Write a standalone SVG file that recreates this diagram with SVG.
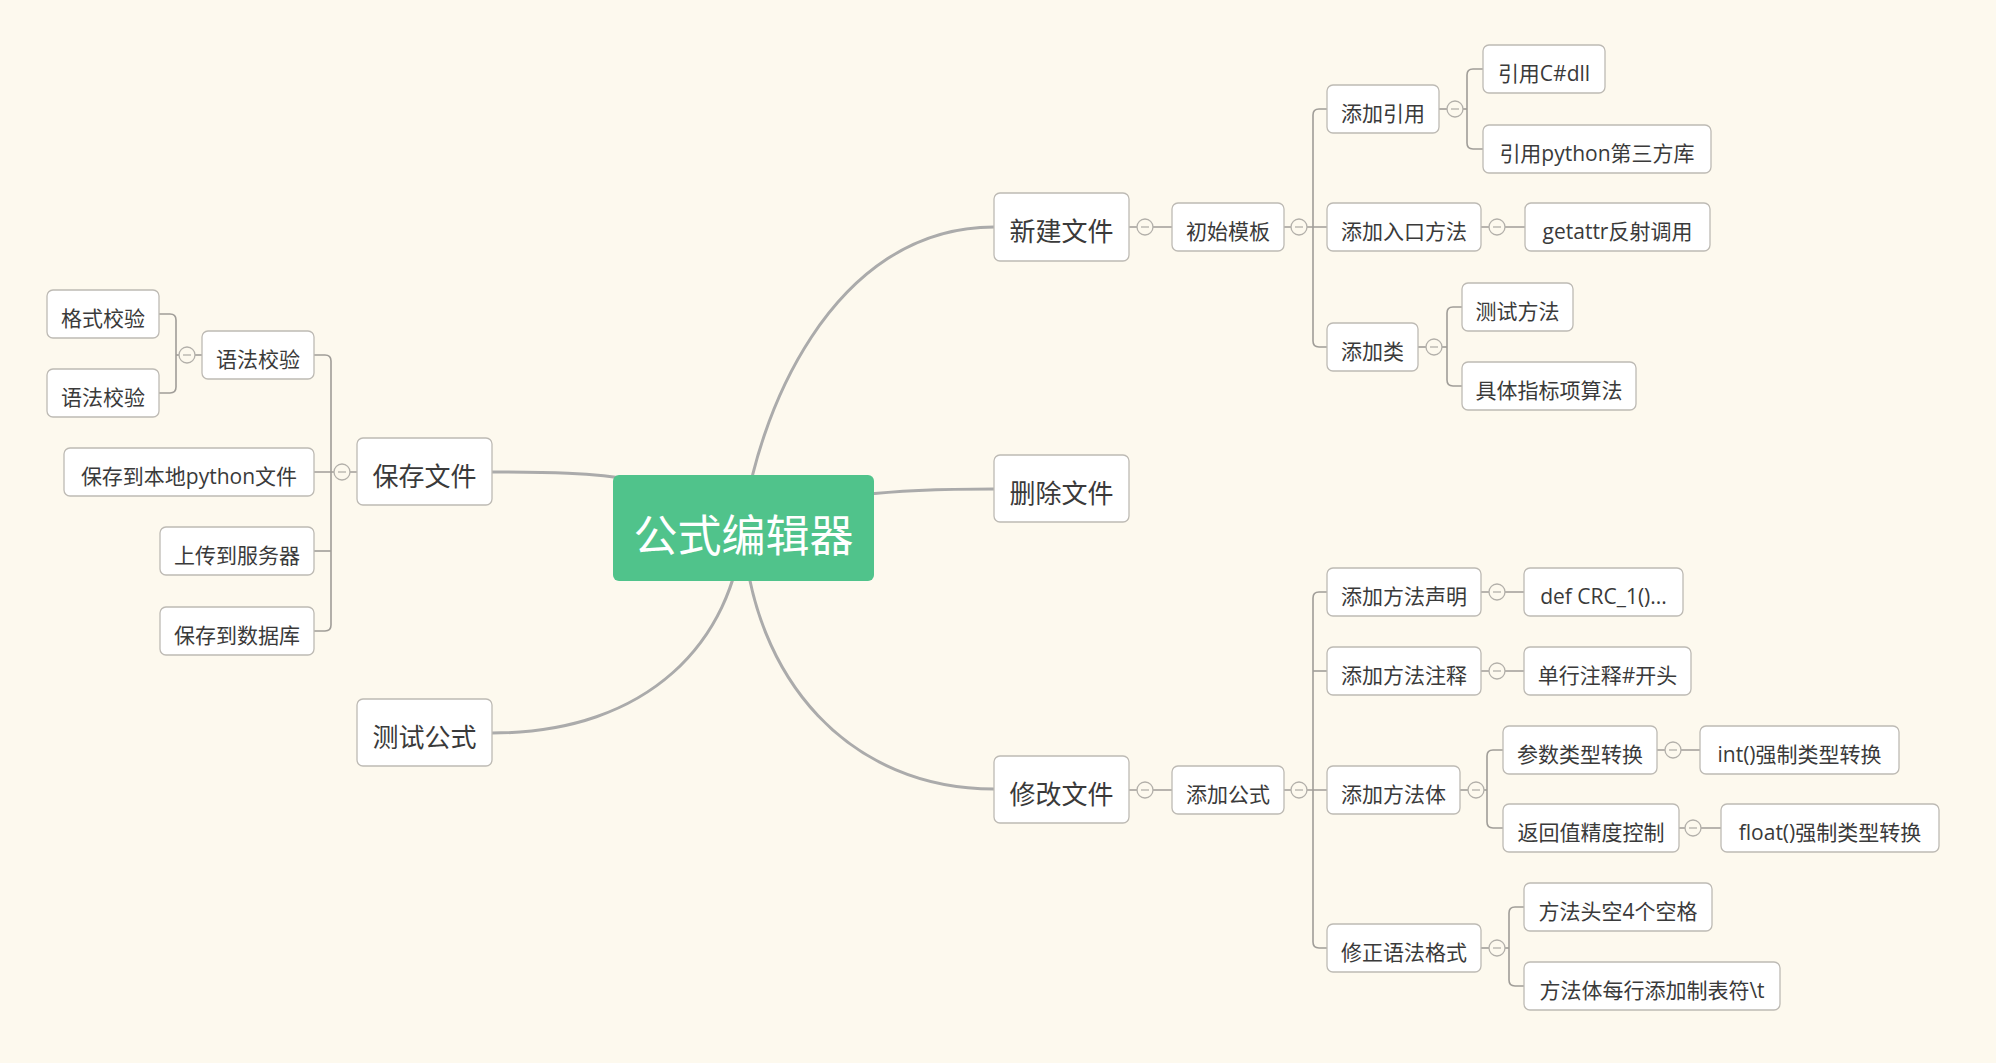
<svg xmlns="http://www.w3.org/2000/svg" width="1996" height="1063" viewBox="0 0 1996 1063">
<style>
.bg{fill:#fdf9ee}
.n rect{fill:#ffffff;stroke:#bdbab4;stroke-width:1.3}
.n text{font-family:"Open Sans","Noto Sans CJK SC",sans-serif;fill:#3a3a3a;text-anchor:middle}
.m text{font-size:26px}
.s text{font-size:21px}
.root rect{fill:#50c38b;stroke:none}
.root text{font-family:"Noto Sans CJK SC","Noto Sans",sans-serif;fill:#ffffff;font-size:44px;text-anchor:middle}
.main{fill:none;stroke:#ababab;stroke-width:3}
.sub{fill:none;stroke:#a09d98;stroke-width:1.6}
.tog circle{fill:#fdf9ee;stroke:#b3b0aa;stroke-width:1.3}
.tog line{stroke:#b3b0aa;stroke-width:1.3}
</style>
<rect class="bg" x="0" y="0" width="1996" height="1063"/>

<g id="connectors">
  <path class="main" d="M743,528 C755,420 830,227 994,227"/>
  <path class="main" d="M743,528 C820,492 900,489 994,489"/>
  <path class="main" d="M743,528 C752,680 850,789 994,789"/>
  <path class="main" d="M743,528 C680,475 600,472 492,472"/>
  <path class="main" d="M743,528 C733,640 650,733 492,733"/>

  <path class="sub" d="M1129,227 H1172"/>
  <path class="sub" d="M1284,227 H1327"/>
  <path class="sub" d="M1327,109 H1319 Q1313,109 1313,115 V341 Q1313,347 1319,347 H1327"/>
  <path class="sub" d="M1439,109 H1467"/>
  <path class="sub" d="M1483,69 H1473 Q1467,69 1467,75 V143 Q1467,149 1473,149 H1483"/>
  <path class="sub" d="M1481,227 H1525"/>
  <path class="sub" d="M1418,347 H1447"/>
  <path class="sub" d="M1462,307 H1453 Q1447,307 1447,313 V380 Q1447,386 1453,386 H1462"/>

  <path class="sub" d="M1129,790 H1172"/>
  <path class="sub" d="M1284,790 H1327"/>
  <path class="sub" d="M1327,592 H1319 Q1313,592 1313,598 V942 Q1313,948 1319,948 H1327"/>
  <path class="sub" d="M1313,671 H1327"/>
  <path class="sub" d="M1481,592 H1524"/>
  <path class="sub" d="M1481,671 H1524"/>
  <path class="sub" d="M1460,790 H1487"/>
  <path class="sub" d="M1503,750 H1493 Q1487,750 1487,756 V822 Q1487,828 1493,828 H1503"/>
  <path class="sub" d="M1657,750 H1700"/>
  <path class="sub" d="M1679,828 H1721"/>
  <path class="sub" d="M1481,948 H1509"/>
  <path class="sub" d="M1524,907 H1515 Q1509,907 1509,913 V980 Q1509,986 1515,986 H1524"/>

  <path class="sub" d="M357,472 H314"/>
  <path class="sub" d="M314,355 H325 Q331,355 331,361 V625 Q331,631 325,631 H314"/>
  <path class="sub" d="M331,551 H314"/>
  <path class="sub" d="M202,355 H176"/>
  <path class="sub" d="M159,314 H170 Q176,314 176,320 V387 Q176,393 170,393 H159"/>
</g>

<g id="toggles" class="tog">
  <g><circle cx="1145" cy="227" r="8"/><line x1="1141" y1="227" x2="1149" y2="227"/></g>
  <g><circle cx="1299" cy="227" r="8"/><line x1="1295" y1="227" x2="1303" y2="227"/></g>
  <g><circle cx="1455" cy="109" r="8"/><line x1="1451" y1="109" x2="1459" y2="109"/></g>
  <g><circle cx="1497" cy="227" r="8"/><line x1="1493" y1="227" x2="1501" y2="227"/></g>
  <g><circle cx="1434" cy="347" r="8"/><line x1="1430" y1="347" x2="1438" y2="347"/></g>
  <g><circle cx="1145" cy="790" r="8"/><line x1="1141" y1="790" x2="1149" y2="790"/></g>
  <g><circle cx="1299" cy="790" r="8"/><line x1="1295" y1="790" x2="1303" y2="790"/></g>
  <g><circle cx="1497" cy="592" r="8"/><line x1="1493" y1="592" x2="1501" y2="592"/></g>
  <g><circle cx="1497" cy="671" r="8"/><line x1="1493" y1="671" x2="1501" y2="671"/></g>
  <g><circle cx="1476" cy="790" r="8"/><line x1="1472" y1="790" x2="1480" y2="790"/></g>
  <g><circle cx="1673" cy="750" r="8"/><line x1="1669" y1="750" x2="1677" y2="750"/></g>
  <g><circle cx="1693" cy="828" r="8"/><line x1="1689" y1="828" x2="1697" y2="828"/></g>
  <g><circle cx="1497" cy="948" r="8"/><line x1="1493" y1="948" x2="1501" y2="948"/></g>
  <g><circle cx="342" cy="472" r="8"/><line x1="338" y1="472" x2="346" y2="472"/></g>
  <g><circle cx="187" cy="355" r="8"/><line x1="183" y1="355" x2="191" y2="355"/></g>
</g>

<g id="root" class="root"><rect x="613" y="475" width="261" height="106" rx="6"/><text x="743.5" y="552">公式编辑器</text></g>

<g id="n-new" class="n m"><rect x="994" y="193" width="135" height="68" rx="6"/><text x="1061.5" y="241">新建文件</text></g>
<g id="n-del" class="n m"><rect x="994" y="455" width="135" height="67" rx="6"/><text x="1061.5" y="503">删除文件</text></g>
<g id="n-mod" class="n m"><rect x="994" y="756" width="135" height="67" rx="6"/><text x="1061.5" y="804">修改文件</text></g>
<g id="n-save" class="n m"><rect x="357" y="438" width="135" height="67" rx="6"/><text x="424.5" y="486">保存文件</text></g>
<g id="n-test" class="n m"><rect x="357" y="699" width="135" height="67" rx="6"/><text x="424.5" y="747">测试公式</text></g>

<g id="n-tpl" class="n s"><rect x="1172" y="203" width="112" height="48" rx="6"/><text x="1228" y="239">初始模板</text></g>
<g id="n-ref" class="n s"><rect x="1327" y="85" width="112" height="48" rx="6"/><text x="1383" y="121">添加引用</text></g>
<g id="n-entry" class="n s"><rect x="1327" y="203" width="154" height="48" rx="6"/><text x="1404" y="239">添加入口方法</text></g>
<g id="n-cls" class="n s"><rect x="1327" y="323" width="91" height="48" rx="6"/><text x="1372.5" y="359">添加类</text></g>
<g id="n-dll" class="n s"><rect x="1483" y="45" width="122" height="48" rx="6"/><text x="1544" y="81">引用C#dll</text></g>
<g id="n-pylib" class="n s"><rect x="1483" y="125" width="228" height="48" rx="6"/><text x="1597" y="161">引用python第三方库</text></g>
<g id="n-getattr" class="n s"><rect x="1525" y="203" width="185" height="48" rx="6"/><text x="1617.5" y="239">getattr反射调用</text></g>
<g id="n-testm" class="n s"><rect x="1462" y="283" width="111" height="48" rx="6"/><text x="1517.5" y="319">测试方法</text></g>
<g id="n-algo" class="n s"><rect x="1462" y="362" width="174" height="48" rx="6"/><text x="1549" y="398">具体指标项算法</text></g>

<g id="n-formula" class="n s"><rect x="1172" y="766" width="112" height="48" rx="6"/><text x="1228" y="802">添加公式</text></g>
<g id="n-decl" class="n s"><rect x="1327" y="568" width="154" height="48" rx="6"/><text x="1404" y="604">添加方法声明</text></g>
<g id="n-cmt" class="n s"><rect x="1327" y="647" width="154" height="48" rx="6"/><text x="1404" y="683">添加方法注释</text></g>
<g id="n-body" class="n s"><rect x="1327" y="766" width="133" height="48" rx="6"/><text x="1393.5" y="802">添加方法体</text></g>
<g id="n-fix" class="n s"><rect x="1327" y="924" width="154" height="48" rx="6"/><text x="1404" y="960">修正语法格式</text></g>
<g id="n-crc" class="n s"><rect x="1524" y="568" width="159" height="48" rx="6"/><text x="1603.5" y="604">def CRC_1()...</text></g>
<g id="n-hash" class="n s"><rect x="1524" y="647" width="167" height="48" rx="6"/><text x="1607.5" y="683">单行注释#开头</text></g>
<g id="n-param" class="n s"><rect x="1503" y="726" width="154" height="48" rx="6"/><text x="1580" y="762">参数类型转换</text></g>
<g id="n-ret" class="n s"><rect x="1503" y="804" width="176" height="48" rx="6"/><text x="1591" y="840">返回值精度控制</text></g>
<g id="n-int" class="n s"><rect x="1700" y="726" width="199" height="48" rx="6"/><text x="1799.5" y="762">int()强制类型转换</text></g>
<g id="n-float" class="n s"><rect x="1721" y="804" width="218" height="48" rx="6"/><text x="1830" y="840">float()强制类型转换</text></g>
<g id="n-indent" class="n s"><rect x="1524" y="883" width="188" height="48" rx="6"/><text x="1618" y="919">方法头空4个空格</text></g>
<g id="n-tab" class="n s"><rect x="1524" y="962" width="256" height="48" rx="6"/><text x="1652" y="998">方法体每行添加制表符\t</text></g>

<g id="n-syntax" class="n s"><rect x="202" y="331" width="112" height="48" rx="6"/><text x="258" y="367">语法校验</text></g>
<g id="n-fmtchk" class="n s"><rect x="47" y="290" width="112" height="48" rx="6"/><text x="103" y="326">格式校验</text></g>
<g id="n-synchk" class="n s"><rect x="47" y="369" width="112" height="48" rx="6"/><text x="103" y="405">语法校验</text></g>
<g id="n-local" class="n s"><rect x="64" y="448" width="250" height="48" rx="6"/><text x="189" y="484">保存到本地python文件</text></g>
<g id="n-upload" class="n s"><rect x="160" y="527" width="154" height="48" rx="6"/><text x="237" y="563">上传到服务器</text></g>
<g id="n-db" class="n s"><rect x="160" y="607" width="154" height="48" rx="6"/><text x="237" y="643">保存到数据库</text></g>
</svg>
